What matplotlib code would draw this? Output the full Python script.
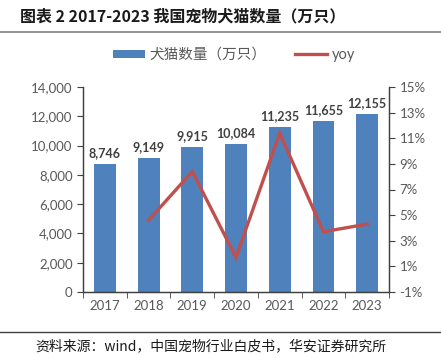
import matplotlib.pyplot as plt
import numpy as np

plt.rcParams['font.family'] = ['Lato', 'Noto Sans CJK SC', 'DejaVu Sans']

years = ['2017', '2018', '2019', '2020', '2021', '2022', '2023']
count = [8746, 9149, 9915, 10084, 11235, 11655, 12155]
yoy_years = ['2018', '2019', '2020', '2021', '2022', '2023']
yoy = [4.6, 8.4, 1.7, 11.4, 3.7, 4.3]

bar_c = '#4F81BD'
line_c = '#C0504D'
txt_c = '#595959'

fig = plt.figure(figsize=(4.41, 3.58), dpi=100)
ax = fig.add_axes([83/441, 1-292/358, (389-83)/441, (292-87)/358])
ax2 = ax.twinx()

x = np.arange(len(years))
ax.bar(x, count, width=0.5, color=bar_c, label='犬猫数量（万只）', zorder=2)
for xi, v in zip(x, count):
    ax.text(xi, v + 350, f'{v:,}', ha='center', va='bottom', fontsize=9,
            fontweight='bold', color='#404040')

xl = [years.index(y) for y in yoy_years]
ax2.plot(xl, yoy, color=line_c, lw=2.4, label='yoy', solid_joinstyle='miter')

ax.set_xlim(-0.5, len(years) - 0.5)
ax.set_ylim(0, 14000)
ax.set_yticks(np.arange(0, 14001, 2000))
ax.set_yticklabels([f'{t:,}' for t in range(0, 14001, 2000)])
ax2.set_ylim(-1, 15)
ax2.set_yticks(np.arange(-1, 16, 2))
ax2.set_yticklabels([f'{t}%' for t in range(-1, 16, 2)])

ax.set_xticks(x)
ax.set_xticklabels(years)
ax.set_xticks(np.arange(-0.5, len(years), 1), minor=True)
ax.tick_params(axis='x', which='major', length=0, pad=6, labelsize=9.5, colors=txt_c)
ax.tick_params(axis='x', which='minor', length=4, color='#404040')
ax.tick_params(axis='y', length=4, labelsize=9.5, labelcolor=txt_c, color='#404040')
ax2.tick_params(axis='y', length=4, labelsize=9.5, labelcolor=txt_c, color='#404040')

for a in (ax, ax2):
    a.spines['top'].set_visible(False)
    for s in ('left', 'right', 'bottom'):
        a.spines[s].set_color('#404040')
        a.spines[s].set_linewidth(0.9)

h1, l1 = ax.get_legend_handles_labels()
h2, l2 = ax2.get_legend_handles_labels()
fig.legend(h1 + h2, l1 + l2, loc='center', bbox_to_anchor=(0.53, 1-55/358),
           ncol=2, frameon=False, fontsize=10.5, labelcolor=txt_c,
           handlelength=2.2, handleheight=0.5, columnspacing=2.0, handletextpad=0.3)

fig.text(20/441, 1-16/358, '图表 2 2017-2023 我国宠物犬猫数量（万只）', fontsize=11.5,
         fontweight='bold', va='center', ha='left', color='#1a1a1a',
         family=['Noto Sans CJK SC', 'DejaVu Sans'])
fig.add_artist(plt.Line2D([0, 1], [1-32/358, 1-32/358], color='#808080', lw=1.2))
fig.add_artist(plt.Line2D([0, 1], [1-332/358, 1-332/358], color='#404040', lw=1))
fig.text(35/441, 1-346/358, '资料来源：wind，中国宠物行业白皮书，华安证券研究所', fontsize=10,
         va='center', ha='left', color='#1a1a1a',
         family=['Noto Sans CJK SC', 'DejaVu Sans'])

fig.savefig('out.png', dpi=100)
